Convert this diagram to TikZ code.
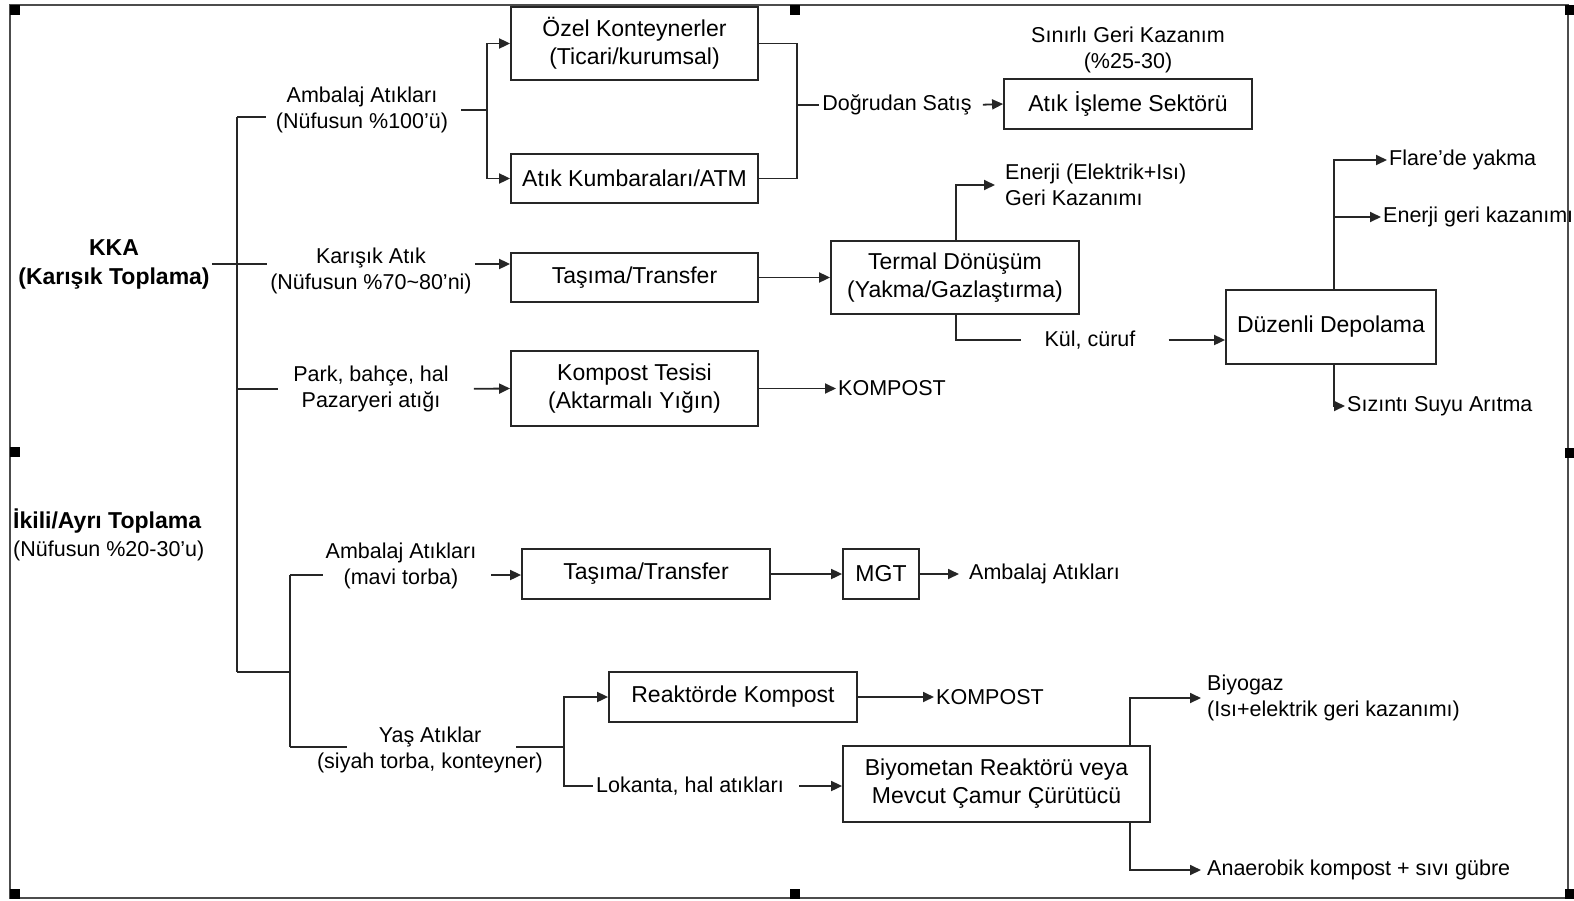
\documentclass[tikz,border=0pt]{standalone}
\usepackage{fontspec}
\setmainfont{Liberation Sans}
\usepackage{tikz}
\usetikzlibrary{arrows.meta,positioning}

\begin{document}
\begin{tikzpicture}[x=1pt, y=-1pt,
        block/.style={rectangle, draw=black!85, line width=1.8pt, inner sep=0pt, align=center, font=\fontsize{23}{28}\selectfont},
        lbl/.style={align=center, inner sep=3pt, font=\fontsize{21.5}{26.5}\selectfont},
        outtext/.style={anchor=west, align=left, inner sep=2pt, font=\fontsize{21.5}{26.5}\selectfont},
        head/.style={align=center, inner sep=2pt, font=\fontsize{23}{29}\selectfont\bfseries},
        line/.style={line width=1.8pt, draw=black!85},
        arrow/.style={-{Triangle[length=11pt,width=10pt]}, line width=1.8pt, draw=black!85}
    ]
        \useasboundingbox (0,0) rectangle (1574,900);

        % Frame
        \draw[line width=1.6pt, black!70] (10,5) rectangle (1568,898);
        \foreach \hx/\hy in {10/5, 790/5, 1565/5, 10/447, 1565/448, 10/889, 790/889, 1565/889}
            \fill (\hx,\hy) rectangle ++(10,10);

        % Left headings
        \node[head] (kka) at (114,264) {KKA\\(Karışık Toplama)};
        \node[anchor=west, align=left, inner sep=2pt, font=\fontsize{21.5}{28}\selectfont] (ikili) at (11,535)
            {{\fontsize{23}{28}\selectfont\bfseries İkili/Ayrı Toplama}\\(Nüfusun \%20-30'u)};

        % Labels
        \node[lbl] (amb1) at (362,110) {Ambalaj Atıkları\\(Nüfusun \%100'ü)};
        \node[lbl] (karisik) at (371,271) {Karışık Atık\\(Nüfusun \%70\textasciitilde 80'ni)};
        \node[lbl] (park) at (371,389) {Park, bahçe, hal\\Pazaryeri atığı};
        \node[lbl] (amb2) at (401,566) {Ambalaj Atıkları\\(mavi torba)};
        \node[lbl] (yas) at (430,750) {Yaş Atıklar\\(siyah torba, konteyner)};
        \node[lbl] (lokanta) at (690,786) {Lokanta, hal atıkları};
        \node[lbl] (dogrudan) at (897,105) {Doğrudan Satış};
        \node[lbl] (sinirli) at (1128,50) {Sınırlı Geri Kazanım\\(\%25-30)};
        \node[lbl] (kul) at (1090,340) {Kül, cüruf};

        % Blocks
        \node[block, minimum width=247pt, minimum height=73pt] (ozel) at (634.5,43.5) {Özel Konteynerler\\(Ticari/kurumsal)};
        \node[block, minimum width=247pt, minimum height=49pt] (atm) at (634.5,178.5) {Atık Kumbaraları/ATM};
        \node[block, minimum width=248pt, minimum height=50pt] (isleme) at (1128,104) {Atık İşleme Sektörü};
        \node[block, minimum width=247pt, minimum height=49pt] (tasima1) at (634.5,277.5) {Taşıma/Transfer};
        \node[block, minimum width=248pt, minimum height=73pt] (termal) at (955,277.5) {Termal Dönüşüm\\(Yakma/Gazlaştırma)};
        \node[block, minimum width=210pt, minimum height=74pt] (depo) at (1331,327) {Düzenli Depolama};
        \node[block, minimum width=247pt, minimum height=75pt] (kompost) at (634.5,388.5) {Kompost Tesisi\\(Aktarmalı Yığın)};
        \node[block, minimum width=248pt, minimum height=50pt] (tasima2) at (646,574) {Taşıma/Transfer};
        \node[block, minimum width=76pt, minimum height=50pt] (mgt) at (881,574) {MGT};
        \node[block, minimum width=248pt, minimum height=50pt] (reaktor) at (733,697) {Reaktörde Kompost};
        \node[block, minimum width=307pt, minimum height=76pt] (biyo) at (996.5,784) {Biyometan Reaktörü veya\\Mevcut Çamur Çürütücü};

        % Outputs
        \node[outtext] (enerji1) at (1003,185) {Enerji (Elektrik+Isı)\\Geri Kazanımı};
        \node[outtext] (flare) at (1387,160) {Flare'de yakma};
        \node[outtext] (enerji2) at (1381,217) {Enerji geri kazanımı};
        \node[outtext] (sizinti) at (1345,406) {Sızıntı Suyu Arıtma};
        \node[outtext] (kompost1) at (836,388.5) {KOMPOST};
        \node[outtext] (ambout) at (967,574) {Ambalaj Atıkları};
        \node[outtext] (kompost2) at (934,697) {KOMPOST};
        \node[outtext] (biyogaz) at (1205,698) {Biyogaz\\(Isı+elektrik geri kazanımı)};
        \node[outtext] (anaerobik) at (1205,870) {Anaerobik kompost + sıvı gübre};

        % Junctions
        \coordinate (tr) at (237,117);
        \coordinate (tb) at (237,672);
        \coordinate (sb) at (290,575);
        \coordinate (se) at (290,747);
        \coordinate (j1) at (487,110);
        \coordinate (j2) at (797,105);
        \coordinate (tx) at (956,277);
        \coordinate (dx) at (1334,327);
        \coordinate (yj) at (564,747);
        \coordinate (bx) at (1130,784);

        % Lines
        \draw[line] (tr) -- (tb);
        \draw[line, shorten >=7pt] (tr) -- (amb1.west |- tr);
        \draw[line] (kka.east) -- (karisik.west |- kka.east);
        \draw[line, shorten >=12pt] (tr |- park.west) -- (park.west);
        \draw[line] (tb) -- (tb -| sb);
        \draw[line] (sb) -- (se);
        \draw[line] (sb) -- (amb2.west |- sb);
        \draw[line, shorten >=-33pt] (se) -- (yas.west |- se);
        \draw[line, shorten <=-30pt] (yas.east |- se) -- (yj);
        \draw[line, shorten <=10pt] (amb1.east |- j1) -- (j1);
        \draw[line] (ozel.east) -| (j2);
        \draw[line] (atm.east) -| (j2);
        \draw[line] (j2) -- (dogrudan.west);
        \draw[line, shorten >=20pt] (tx |- termal.south) |- (kul.west);
        \draw[line] (yj) |- (lokanta.west);

        % Arrows
        \draw[arrow] (j1) |- (ozel.west);
        \draw[arrow] (j1) |- (atm.west);
        \draw[arrow, shorten <=8pt] (dogrudan.east) -- (isleme.west);
        \draw[arrow] (karisik.east |- kka.east) -- (tasima1.west |- kka.east);
        \draw[arrow] (tasima1.east) -- (termal.west);
        \draw[arrow, shorten >=8pt] (tx |- termal.north) |- (enerji1.west);
        \draw[arrow, shorten <=30pt] (kul.east) -- (depo.west |- kul.east);
        \draw[arrow] (dx |- depo.north) |- (flare.west);
        \draw[arrow] (dx |- enerji2.west) -- (enerji2.west);
        \draw[arrow] (dx |- depo.south) |- (sizinti.west);
        \draw[arrow, shorten <=22pt] (park.east) -- (kompost.west);
        \draw[arrow] (kompost.east) -- (kompost1.west);
        \draw[arrow, shorten <=12pt] (amb2.east |- sb) -- (tasima2.west |- sb);
        \draw[arrow] (tasima2.east) -- (mgt.west);
        \draw[arrow, shorten >=8pt] (mgt.east) -- (ambout.west);
        \draw[arrow] (yj) |- (reaktor.west);
        \draw[arrow] (reaktor.east) -- (kompost2.west);
        \draw[arrow, shorten <=12pt] (lokanta.east) -- (biyo.west |- lokanta.east);
        \draw[arrow, shorten >=4pt] (bx |- biyo.north) |- (biyogaz.west);
        \draw[arrow, shorten >=4pt] (bx |- biyo.south) |- (anaerobik.west);

    \end{tikzpicture}
\end{document}
